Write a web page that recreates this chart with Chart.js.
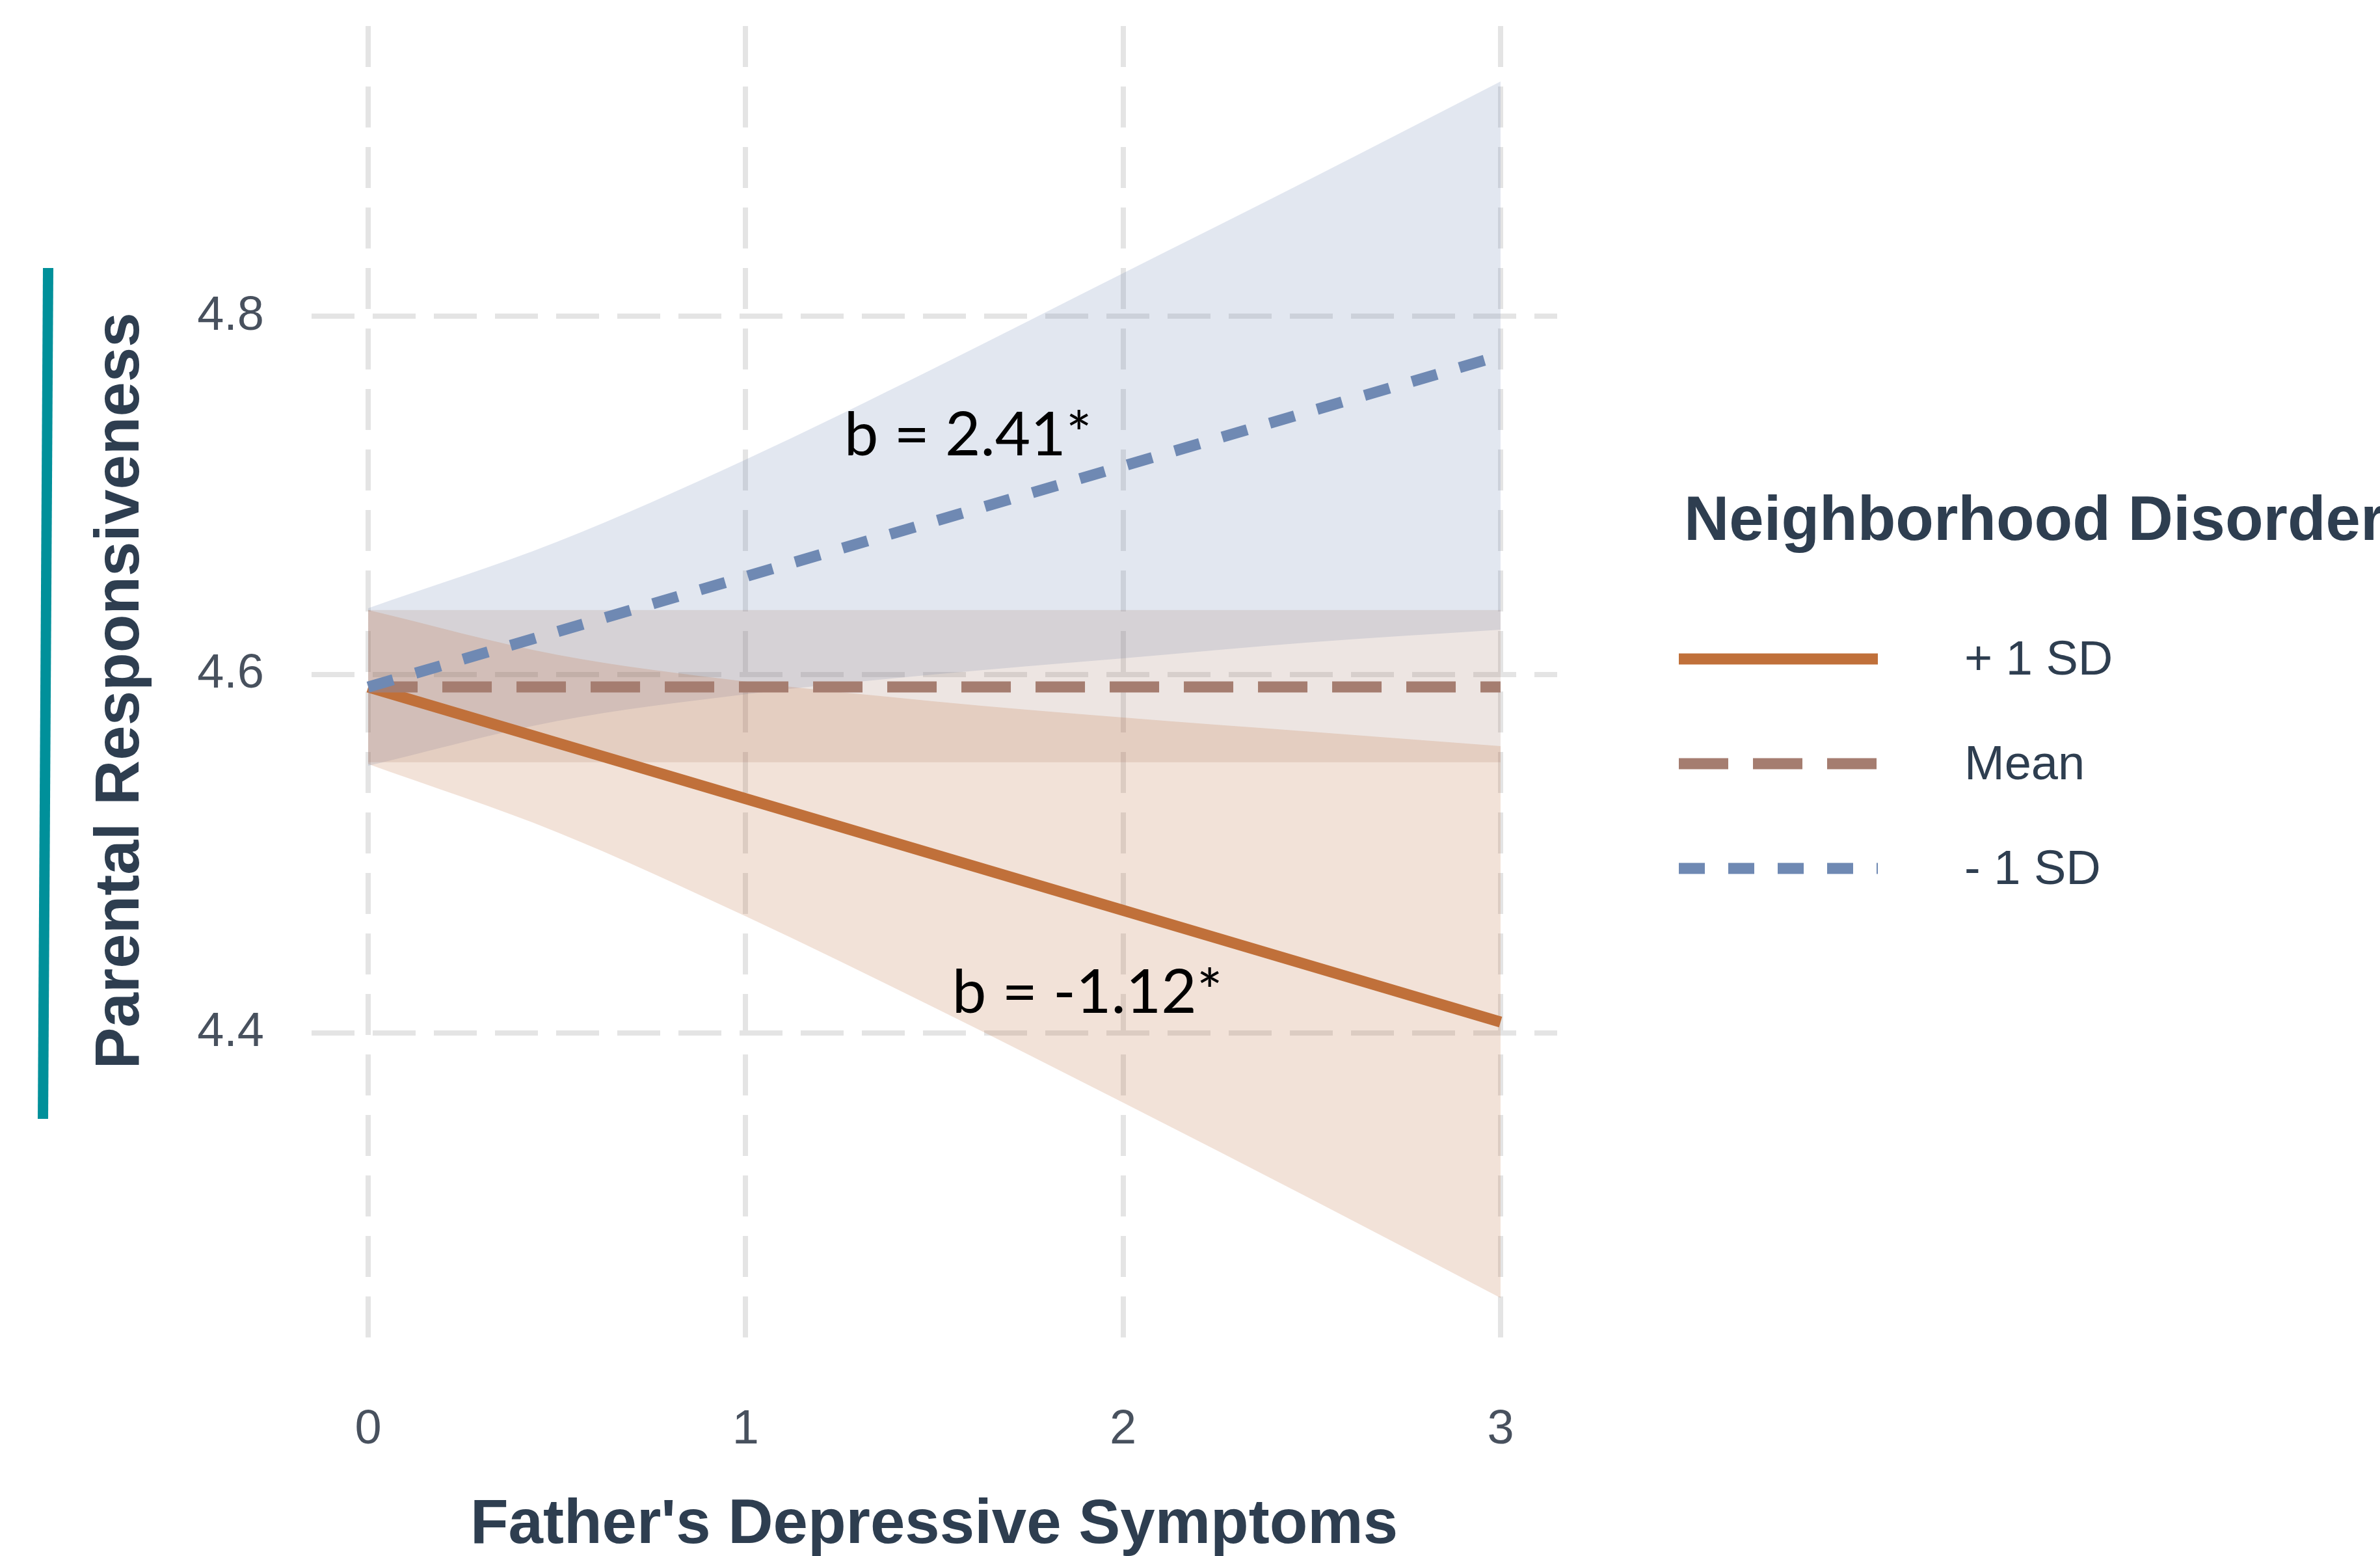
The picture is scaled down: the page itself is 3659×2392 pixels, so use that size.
<!DOCTYPE html>
<html>
<head>
<meta charset="utf-8">
<title>Parental Responsiveness by Father's Depressive Symptoms</title>
<script src="https://cdn.jsdelivr.net/npm/chart.js@4/dist/chart.umd.min.js"></script>
<style>
  html, body { margin: 0; padding: 0; background: #ffffff; }
  canvas { display: block; }
</style>
</head>
<body>
<canvas id="chart" width="3659" height="2392" style="width:3659px;height:2392px"></canvas>
<script>
// ---- data -------------------------------------------------------------
// Father's depressive symptoms at which the confidence ribbons are given
const bandX = [0, 0.5, 1, 1.5, 2, 2.5, 3];
// Fitted simple slopes are straight, so two end points describe them
const lineX = [0, 3];

// Neighborhood disorder + 1 SD
const highFit   = [4.593, 4.406];
const highUpper = [4.636, 4.611, 4.596, 4.585, 4.576, 4.568, 4.560];
const highLower = [4.550, 4.512, 4.465, 4.414, 4.361, 4.307, 4.252];

// Neighborhood disorder at the mean
const meanFit   = [4.593, 4.593];
const meanUpper = [4.636, 4.636, 4.636, 4.636, 4.636, 4.636, 4.636];
const meanLower = [4.551, 4.551, 4.551, 4.551, 4.551, 4.551, 4.551];

// Neighborhood disorder - 1 SD
const lowFit   = [4.593, 4.778];
const lowUpper = [4.637, 4.674, 4.720, 4.771, 4.824, 4.877, 4.931];
const lowLower = [4.549, 4.574, 4.589, 4.600, 4.609, 4.618, 4.625];

const groupLabels = ['+ 1 SD', 'Mean', '- 1 SD'];
const xTickValues = [0, 1, 2, 3];
const yTickValues = [4.4, 4.6, 4.8];
const slopeTexts  = ['b = 2.41*', 'b = -1.12*'];

// ---- appearance ---------------------------------------------------------
const colors = {
  high: '#c0703a',
  mean: '#a57d70',
  low:  '#6f89b3',
  text: '#2e3e50',
  tick: '#48515e',
  grid: '#e4e4e4',
  accent: '#00909a'
};
const fillOf = hex => {
  const n = parseInt(hex.slice(1), 16);
  return `rgba(${n >> 16},${(n >> 8) & 255},${n & 255},0.2)`;
};

// where the slope notes sit, in axis units (left edge, baseline)
const slopeNoteAnchors = [
  { x: 1.261, y: 4.7223 },
  { x: 1.547, y: 4.4111 }
];

const pts = (xs, ys) => xs.map((x, i) => ({ x, y: ys[i] }));

const LINE_W = 17;
const lineSet = (label, xs, ys, color, dash, order) => ({
  label, data: pts(xs, ys), borderColor: color, borderWidth: LINE_W,
  borderDash: dash, borderCapStyle: 'butt', pointRadius: 0,
  fill: false, tension: 0, order
});
const bandPair = (xs, up, lo, color, order) => [
  { label: '', data: pts(xs, up), borderColor: 'rgba(0,0,0,0)', borderWidth: 0,
    backgroundColor: fillOf(color), fill: '+1', pointRadius: 0,
    cubicInterpolationMode: 'monotone', order },
  { label: '', data: pts(xs, lo), borderColor: 'rgba(0,0,0,0)', borderWidth: 0,
    fill: false, pointRadius: 0, cubicInterpolationMode: 'monotone', order }
];

const datasets = [
  lineSet(groupLabels[2], lineX, lowFit,  colors.low,  [40, 36], 0),
  lineSet(groupLabels[1], lineX, meanFit, colors.mean, [76, 38], 1),
  lineSet(groupLabels[0], lineX, highFit, colors.high, [], 2),
  ...bandPair(bandX, highUpper, highLower, colors.high, 10),
  ...bandPair(bandX, meanUpper, meanLower, colors.mean, 12),
  ...bandPair(bandX, lowUpper,  lowLower,  colors.low,  14)
];

// legend order: + 1 SD, Mean, - 1 SD
const legendOrder = [2, 1, 0];

// ---- decorations: axis titles, accent bar, legend, slope notes ----------
const decor = {
  id: 'decor',
  afterDraw(chart) {
    const { ctx, scales } = chart;
    ctx.save();

    // accent bar beside the y title
    ctx.fillStyle = colors.accent;
    ctx.beginPath();
    ctx.moveTo(66, 412); ctx.lineTo(82, 412);
    ctx.lineTo(74, 1720); ctx.lineTo(58, 1720);
    ctx.closePath(); ctx.fill();

    // axis titles
    ctx.fillStyle = colors.text;
    ctx.font = 'bold 96px "Liberation Sans", Arial, sans-serif';
    ctx.textAlign = 'center';
    ctx.textBaseline = 'alphabetic';
    ctx.fillText("Father's Depressive Symptoms", 1436, 2372);
    ctx.save();
    ctx.translate(213, 1062);
    ctx.rotate(-Math.PI / 2);
    ctx.fillText('Parental Responsiveness', 0, 0);
    ctx.restore();

    // legend
    ctx.textAlign = 'left';
    ctx.font = 'bold 96px "Liberation Sans", Arial, sans-serif';
    ctx.fillText('Neighborhood Disorder', 2589, 830);
    ctx.font = '74px "Liberation Sans", Arial, sans-serif';
    ctx.textBaseline = 'middle';
    legendOrder.forEach((di, row) => {
      const ds = chart.data.datasets[di];
      const yMid = 1013 + row * 161;
      ctx.save();
      ctx.strokeStyle = ds.borderColor;
      ctx.lineWidth = ds.borderWidth;
      ctx.lineCap = 'butt';
      ctx.setLineDash(ds.borderDash || []);
      ctx.beginPath();
      ctx.moveTo(2581, yMid);
      ctx.lineTo(2887, yMid);
      ctx.stroke();
      ctx.restore();
      ctx.fillStyle = colors.text;
      ctx.fillText(ds.label, 3020, yMid + 4);
    });

    // slope notes
    ctx.fillStyle = '#000000';
    ctx.font = '94px Lato, "Open Sans", sans-serif';
    ctx.textBaseline = 'alphabetic';
    slopeTexts.forEach((t, i) => {
      const a = slopeNoteAnchors[i];
      ctx.fillText(t, scales.x.getPixelForValue(a.x), scales.y.getPixelForValue(a.y));
    });

    ctx.restore();
  }
};

const tickFont = { family: '"Liberation Sans", Arial, sans-serif', size: 74 };
// keep the panel exactly where the layout padding puts it
const noOverhang = s => { s.paddingTop = 0; s.paddingBottom = 0; s.paddingLeft = 0; s.paddingRight = 0; };

new Chart(document.getElementById('chart'), {
  type: 'line',
  data: { datasets },
  options: {
    responsive: false,
    animation: false,
    events: [],
    layout: { padding: { top: 40, right: 1265, bottom: 0, left: 0 } },
    scales: {
      x: {
        type: 'linear', min: -0.15, max: 3.15,
        afterFit(s) { s.height = 306; noOverhang(s); },
        afterBuildTicks(s) { s.ticks = xTickValues.map(v => ({ value: v })); },
        ticks: { font: tickFont, color: colors.tick, padding: 68, maxRotation: 0,
                 callback: v => String(v) },
        grid: { color: colors.grid, lineWidth: 8, drawTicks: false },
        border: { display: false, dash: [63, 30] }
      },
      y: {
        type: 'linear', min: 4.219, max: 4.962,
        afterFit(s) { s.width = 479; noOverhang(s); },
        afterBuildTicks(s) { s.ticks = yTickValues.map(v => ({ value: v })); },
        ticks: { font: tickFont, color: colors.tick, padding: 73,
                 callback: v => Number(v).toFixed(1) },
        grid: { color: colors.grid, lineWidth: 8, drawTicks: false },
        border: { display: false, dash: [66, 28] }
      }
    },
    plugins: {
      legend: { display: false },
      tooltip: { enabled: false },
      filler: { drawTime: 'beforeDatasetsDraw' }
    }
  },
  plugins: [decor]
});
</script>
</body>
</html>
